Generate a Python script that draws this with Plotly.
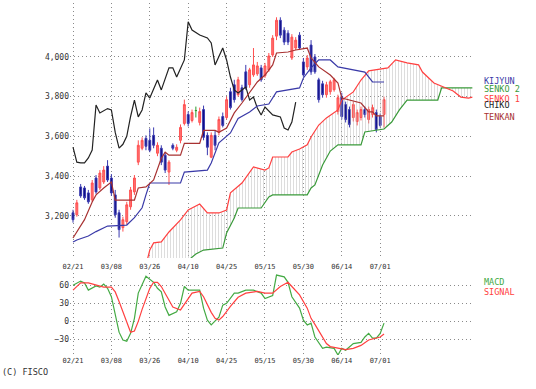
import plotly.graph_objects as go

# ---------------- data ----------------
tick_idx = [0, 10, 20, 30, 40, 50, 60, 70, 80]
tick_labels = ['02/21', '03/08', '03/26', '04/10', '04/25', '05/15', '05/30', '06/14', '07/01']

opens = [3215, 3205, 3345, 3340, 3315, 3280, 3390, 3340, 3370, 3450,
         3390, 3305, 3215, 3140, 3170, 3245, 3320, 3470, 3540, 3590,
         3580, 3605, 3515, 3540, 3505, 3420, 3555, 3530, 3580, 3665,
         3710, 3680, 3730, 3670, 3735, 3605, 3495, 3605, 3620, 3700,
         3695, 3825, 3860, 3810, 3845, 3925, 3860, 3910, 3915, 3945,
         3905, 3935, 4010, 4105, 4185, 4135, 4120, 3995, 4045, 4110,
         3975, 3950, 4060, 4000, 3885, 3865, 3810, 3825, 3835, 3725,
         3800, 3760, 3735, 3695, 3675, 3695, 3735, 3685, 3710, 3720,
         3700, 3710]
highs = [3230, 3280, 3360, 3350, 3330, 3380, 3405, 3430, 3450, 3480,
         3410, 3330, 3230, 3195, 3270, 3345, 3405, 3580, 3595, 3605,
         3640, 3645, 3570, 3555, 3520, 3480, 3565, 3560, 3660, 3785,
         3725, 3735, 3750, 3745, 3755, 3620, 3620, 3630, 3700, 3720,
         3800, 3845, 3885, 3900, 3860, 3960, 3945, 4045, 3975, 3960,
         3970, 4020, 4110, 4200, 4200, 4150, 4135, 4115, 4100, 4125,
         3995, 4010, 4085, 4015, 3895, 3880, 3875, 3885, 3895, 3810,
         3820, 3775, 3750, 3775, 3735, 3750, 3750, 3750, 3760, 3735,
         3715, 3800]
lows = [3165, 3195, 3290, 3280, 3260, 3270, 3310, 3330, 3360, 3370,
        3300, 3190, 3090, 3120, 3155, 3230, 3305, 3455, 3530, 3530,
        3520, 3540, 3500, 3455, 3415, 3355, 3530, 3520, 3565, 3655,
        3650, 3670, 3695, 3655, 3580, 3505, 3490, 3530, 3605, 3645,
        3685, 3735, 3770, 3800, 3775, 3835, 3845, 3900, 3905, 3875,
        3895, 3925, 4000, 4085, 4095, 4060, 4060, 3985, 4035, 4035,
        3900, 3935, 3910, 3915, 3770, 3795, 3795, 3810, 3825, 3710,
        3685, 3670, 3645, 3675, 3655, 3680, 3695, 3665, 3695, 3620,
        3645, 3645]
closes = [3180, 3265, 3300, 3290, 3270, 3365, 3320, 3415, 3430, 3380,
          3315, 3205, 3130, 3180, 3255, 3330, 3390, 3555, 3580, 3550,
          3530, 3555, 3555, 3470, 3430, 3470, 3540, 3545, 3645, 3760,
          3665, 3720, 3730, 3725, 3595, 3545, 3605, 3555, 3685, 3655,
          3785, 3745, 3785, 3885, 3785, 3845, 3935, 3960, 3955, 3885,
          3955, 4005, 4095, 4185, 4110, 4075, 4075, 4100, 4085, 4045,
          3910, 3995, 3925, 3925, 3785, 3810, 3860, 3875, 3885, 3795,
          3700, 3685, 3660, 3760, 3720, 3735, 3710, 3735, 3745, 3635,
          3655, 3785]
doji_day = 32  # unchanged day drawn in green

tenkan_idx = [0, 3, 5, 6, 8, 10, 11, 16, 17, 19, 21, 22, 23, 24, 25, 28, 29, 33, 34, 37,
              38, 40, 42, 44, 46, 48, 50, 52, 53, 56, 58, 61, 62, 64, 67, 69, 70, 73, 75, 77,
              78, 79, 81]
tenkan_val = [3088, 3180, 3269, 3305, 3340, 3370, 3279, 3279, 3340, 3345, 3380, 3430, 3490, 3520, 3505, 3505, 3565, 3565, 3630, 3630,
              3620, 3642, 3718, 3768, 3819, 3874, 3909, 3960, 4020, 4025, 4035, 4045, 3995, 3950, 3909, 3869, 3793, 3778, 3768, 3723,
              3723, 3703, 3703]

kijun_idx = [0, 1, 4, 6, 9, 14, 16, 18, 19, 20, 28, 29, 35, 36, 38, 41, 43, 46, 48, 51,
             53, 59, 60, 62, 64, 67, 69, 73, 76, 78, 81]
kijun_val = [3068, 3078, 3098, 3120, 3148, 3153, 3190, 3240, 3305, 3365, 3365, 3420, 3430, 3466, 3567, 3617, 3690, 3723, 3753, 3763,
             3824, 3844, 3894, 3945, 3985, 3985, 3950, 3935, 3924, 3874, 3874]

senko1_idx = [19, 20, 21, 23, 25, 28, 30, 33, 35, 38, 40, 41, 44, 46, 47, 50, 51, 52, 56, 57,
              59, 61, 62, 64, 66, 69, 70, 73, 75, 77, 80, 82, 84, 87, 90, 91, 94, 96, 97, 99,
              101, 103, 104]
senko1_val = [2950, 3027, 3063, 3068, 3118, 3179, 3229, 3259, 3214, 3214, 3229, 3315, 3365, 3415, 3446, 3430, 3441, 3496, 3496, 3521,
              3536, 3557, 3597, 3657, 3693, 3733, 3783, 3824, 3884, 3930, 3940, 3945, 3985, 3970, 3960, 3924, 3869, 3854, 3844, 3829,
              3798, 3793, 3798]

senko2_idx = [19, 30, 32, 34, 39, 40, 42, 43, 49, 51, 52, 61, 62, 63, 65, 67, 69, 75, 76, 81,
              83, 85, 87, 95, 96, 104]
senko2_val = [2850, 2975, 3007, 3027, 3037, 3113, 3189, 3239, 3239, 3295, 3305, 3305, 3340, 3355, 3456, 3526, 3557, 3557, 3622, 3637,
              3672, 3733, 3783, 3783, 3844, 3844]

chiko_idx = [0, 1, 2, 3, 4, 5, 6, 7, 9, 10, 11, 12, 13, 14, 15, 16, 17, 18, 19, 20,
             22, 23, 25, 26, 27, 28, 29, 30, 31, 33, 35, 36, 37, 39, 40, 41, 42, 43, 45, 46,
             47, 48, 49, 50, 52, 54, 55, 56, 57, 58]
chiko_val = [3546, 3470, 3466, 3466, 3491, 3531, 3758, 3718, 3740, 3733, 3620, 3541, 3560, 3600, 3700, 3783, 3698, 3733, 3819, 3793,
             3884, 3834, 3945, 3945, 3899, 3945, 3985, 4177, 4136, 4111, 4096, 4071, 3960, 4045, 3985, 3899, 3834, 3819, 3849, 3783,
             3798, 3743, 3708, 3748, 3708, 3698, 3642, 3632, 3672, 3773]

macd_idx = [0, 2, 3, 4, 6, 7, 8, 9, 10, 11, 12, 13, 14, 15, 16, 17, 19, 21, 22, 23,
            24, 25, 27, 28, 29, 30, 33, 34, 35, 36, 38, 39, 40, 42, 43, 45, 47, 49, 50, 52,
            53, 55, 56, 57, 59, 60, 61, 62, 63, 65, 66, 68, 69, 70, 71, 73, 75, 76, 77, 78,
            79, 80, 81]
macd_val = [60, 67, 64, 52, 59, 57, 62, 55, 41, 14, -18, -31, -33, -20, 5, 47, 75, 65, 55, 49,
            24, 10, 16, 30, 58, 52, 52, 22, 2, -6, 7, 27, 30, 47, 47, 52, 52, 47, 38, 43,
            77, 74, 65, 41, 22, 2, -6, -3, -26, -45, -43, -45, -56, -45, -48, -37, -35, -26, -20, -28,
            -28, -20, -3]

signal_idx = [0, 2, 4, 6, 8, 10, 11, 12, 13, 14, 15, 16, 17, 18, 19, 20, 21, 22, 23, 24,
              25, 26, 28, 29, 31, 33, 34, 36, 37, 38, 39, 41, 43, 45, 48, 50, 52, 54, 56, 57,
              59, 61, 62, 63, 65, 66, 67, 69, 71, 73, 75, 77, 80, 81]
signal_val = [52, 64, 64, 60, 57, 57, 49, 33, 15, -3, -18, -16, 0, 20, 38, 55, 65, 65, 58, 47,
              35, 24, 19, 28, 47, 50, 41, 15, 5, 2, 8, 25, 40, 47, 50, 47, 47, 58, 65, 58,
              44, 22, 5, -5, -28, -37, -42, -45, -47, -45, -40, -31, -26, -21]

main_ticks = [3200, 3400, 3600, 3800, 4000]
macd_ticks = [-30, 0, 30, 60]

# ---------------- figure ----------------
FONT = "DejaVu Sans Mono"
days = list(range(len(closes)))

fig = go.Figure()

# cloud: senko 2 first, senko 1 filled to it with vertical hatch
fig.add_trace(go.Scatter(x=senko2_idx, y=senko2_val, mode='lines',
                         line=dict(color='#3a9a3a', width=1.2), xaxis='x', yaxis='y'))
fig.add_trace(go.Scatter(x=senko1_idx, y=senko1_val, mode='lines', fill='tonexty',
                         fillcolor='rgba(0,0,0,0)',
                         fillpattern=dict(shape='|', fgcolor='#b4b4b4', bgcolor='rgba(0,0,0,0)',
                                          size=3, solidity=0.3),
                         line=dict(color='#ff4040', width=1.2), xaxis='x', yaxis='y'))

fig.add_trace(go.Scatter(x=chiko_idx, y=chiko_val, mode='lines',
                         line=dict(color='#222222', width=1.2), xaxis='x', yaxis='y'))
fig.add_trace(go.Scatter(x=kijun_idx, y=kijun_val, mode='lines',
                         line=dict(color='#3a3aa8', width=1.2), xaxis='x', yaxis='y'))
fig.add_trace(go.Scatter(x=tenkan_idx, y=tenkan_val, mode='lines',
                         line=dict(color='#a83232', width=1.2), xaxis='x', yaxis='y'))

# candles
cx = [d for d in days if d != doji_day]
fig.add_trace(go.Candlestick(
    x=cx,
    open=[opens[d] for d in cx], high=[highs[d] for d in cx],
    low=[lows[d] for d in cx], close=[closes[d] for d in cx],
    increasing=dict(line=dict(color='#ff5050', width=1), fillcolor='#ff7070'),
    decreasing=dict(line=dict(color='#3a3ab0', width=1), fillcolor='#0c0c80'),
    whiskerwidth=0, xaxis='x', yaxis='y'))
fig.add_trace(go.Candlestick(
    x=[doji_day], open=[opens[doji_day]], high=[highs[doji_day]],
    low=[lows[doji_day]], close=[closes[doji_day]],
    increasing=dict(line=dict(color='#2a9a2a', width=1), fillcolor='#2a9a2a'),
    decreasing=dict(line=dict(color='#2a9a2a', width=1), fillcolor='#2a9a2a'),
    whiskerwidth=0, xaxis='x', yaxis='y'))

# MACD panel
fig.add_trace(go.Scatter(x=macd_idx, y=macd_val, mode='lines',
                         line=dict(color='#44aa44', width=1.2), xaxis='x2', yaxis='y2'))
fig.add_trace(go.Scatter(x=signal_idx, y=signal_val, mode='lines',
                         line=dict(color='#ff4040', width=1.2), xaxis='x2', yaxis='y2'))

xr = [-0.78, 104.17]
grid = dict(showgrid=True, gridcolor='#8a8a8a', griddash='1px,3px', gridwidth=1,
            zeroline=False, showline=False, ticks='')
ytickfont = dict(family=FONT, size=8, color='#333333')
xtickfont = dict(family=FONT, size=7, color='#333333')

fig.update_layout(
    width=536, height=389,
    margin=dict(l=70, r=63, t=3, b=34),
    paper_bgcolor='white', plot_bgcolor='white',
    showlegend=False,
    xaxis=dict(range=xr, anchor='y', tickvals=tick_idx, ticktext=tick_labels,
               rangeslider=dict(visible=False), tickfont=xtickfont,
               ticklabelstandoff=3, **grid),
    yaxis=dict(domain=[0.2756, 1.0], range=[2987, 4272], tickvals=main_ticks,
               tickformat=',d', tickfont=ytickfont, anchor='x', **grid),
    xaxis2=dict(range=xr, anchor='y2', tickvals=tick_idx, ticktext=tick_labels,
                tickfont=xtickfont, **grid),
    yaxis2=dict(domain=[0.0, 0.233], range=[-56, 80.5], tickvals=macd_ticks,
                tickfont=ytickfont, anchor='x2', **grid),
)

labels = [
    ('KIJYUN', 0.778, '#3a3aa8'),
    ('SENKO 2', 0.756, '#3a9a3a'),
    ('SENKO 1', 0.727, '#ff4040'),
    ('CHIKO', 0.710, '#222222'),
    ('TENKAN', 0.676, '#a83232'),
    ('MACD', 0.207, '#44aa44'),
    ('SIGNAL', 0.179, '#ff4040'),
]
for txt, yy, col in labels:
    fig.add_annotation(text=txt, xref='paper', yref='paper', x=1.022, y=yy,
                       xanchor='left', yanchor='middle', showarrow=False,
                       font=dict(family=FONT, size=8.5, color=col))

fig.add_annotation(text='(C) FISCO', xref='paper', yref='paper', x=-0.174, y=-0.048,
                   xanchor='left', yanchor='middle', showarrow=False,
                   font=dict(family=FONT, size=8.5, color='#333333'))

fig.write_html("out.html", config={'displayModeBar': False},
               post_script="document.body.style.margin='0';")
